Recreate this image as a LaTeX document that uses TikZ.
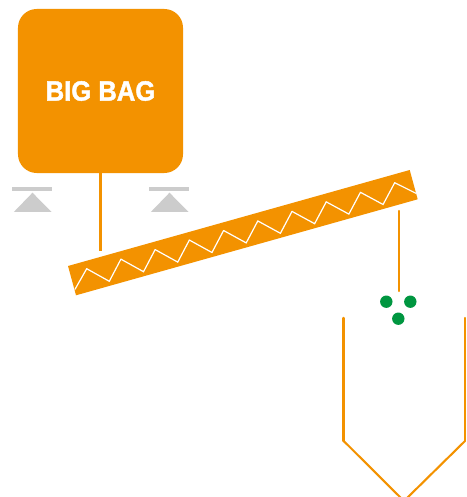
\documentclass[tikz,border=0pt]{standalone}
\usepackage{fontspec}
\setmainfont[BoldFeatures={FakeBold=1.6}]{Liberation Sans}
\usepackage{graphicx}
\usepackage{tkz-euclide}
\definecolor{bagorange}{HTML}{F39200}
\definecolor{graingreen}{HTML}{009640}
\definecolor{scalegray}{HTML}{CCCCCC}
\tikzset{
  bagbox/.style={rectangle,fill=bagorange,rounded corners=.47cm,minimum width=4.125cm,minimum height=4.1cm,inner sep=0pt,text=white},
  graindot/.style={circle,fill=graingreen,minimum size=.31cm,inner sep=0pt},
  feedline/.style={color=bagorange,line width=.052cm},
  wallline/.style={color=bagorange,line width=.062cm},
  zigline/.style={color=white,line width=.03cm,line join=miter,line cap=round}
}

\begin{document}
\begin{tikzpicture}[x=.025cm,y=-.025cm]
\useasboundingbox (0,0) rectangle (466,497);

\tkzDefPoints{68/266/A,76/295.3/B,417.7/199.3/C,409.7/170/D}
\tkzDefPoints{100.5/251/S,398.7/211/F,398.7/291/G}
\tkzDefPoints{343.7/318/H,343.7/441/I,404/501/J,465/441/K,465/318/L}

\node[bagbox] (bigbag) at (100.5,91) {\fontsize{19.8}{22}\selectfont\bfseries\scalebox{.92}[1]{BIG BAG}};

\tkzFillPolygon[color=bagorange](A,B,C,D)
\draw[zigline] (75,289.3) -- (86.7,268.7);
\foreach \i in {0,...,8}
  \draw[zigline] (86.7+34.22*\i,268.7-9.55*\i) -- (109.3+34.22*\i,281.3-9.6*\i) -- (120.92+34.22*\i,259.15-9.55*\i);
\draw[zigline] (394.7,182.7) -- (416,193.3);

\draw[feedline] (bigbag.south) -- (S);
\tkzDrawSegments[feedline](F,G)
\tkzDrawSegments[wallline](H,I K,L)
\tkzDrawPolySeg[feedline](I,J,K)

\node[graindot] (grainA) at (386.3,301.7) {};
\node[graindot] (grainB) at (410.3,301.7) {};
\node[graindot] (grainC) at (398.3,318.7) {};

\foreach \x in {32.5,169.5}{
  \fill[scalegray] (\x-20.5,187) rectangle (\x+19.5,191);
  \fill[scalegray] (\x,192.7) -- (\x+19,212) -- (\x-18.7,212) -- cycle;
}

\end{tikzpicture}
\end{document}
